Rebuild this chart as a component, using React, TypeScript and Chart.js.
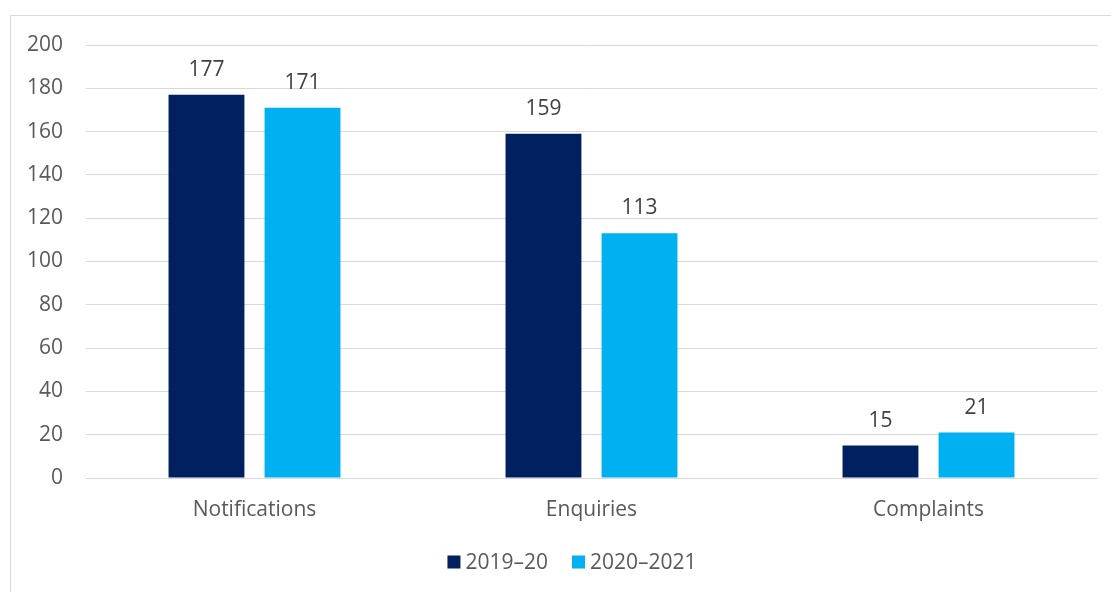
import React, { useEffect, useRef } from "react";
import { Chart, registerables } from "chart.js";

Chart.register(...registerables);

const categories = ["Notifications", "Enquiries", "Complaints"];
const series2019 = [177, 159, 15];
const series2020 = [171, 113, 21];
const seriesLabels = ["2019–20", "2020–2021"];
const seriesColors = ["#002060", "#00B0F0"];
const yTicks = [0, 20, 40, 60, 80, 100, 120, 140, 160, 180, 200];

const FONT = "'Open Sans', sans-serif";

const dataLabelPlugin = {
  id: "dataLabels",
  afterDatasetsDraw(chart: any) {
    const ctx = chart.ctx;
    ctx.save();
    ctx.font = `21px ${FONT}`;
    ctx.fillStyle = "#404040";
    ctx.textAlign = "center";
    ctx.textBaseline = "alphabetic";
    chart.data.datasets.forEach((ds: any, i: number) => {
      const meta = chart.getDatasetMeta(i);
      meta.data.forEach((bar: any, j: number) => {
        ctx.fillText(String(ds.data[j]), bar.x, bar.y - 19);
      });
    });
    ctx.restore();
  },
};

const legendPlugin = {
  id: "customLegend",
  afterDraw(chart: any) {
    const ctx = chart.ctx;
    ctx.save();
    ctx.font = `21px ${FONT}`;
    const box = 13;
    const gapBoxText = 5;
    const gapItems = 24;
    const items = chart.data.datasets.map((ds: any) => ({
      label: ds.label,
      color: ds.backgroundColor,
      w: ctx.measureText(ds.label).width,
    }));
    const total =
      items.reduce((s: number, it: any) => s + box + gapBoxText + it.w, 0) +
      gapItems * (items.length - 1);
    let x = 572 - total / 2;
    const cy = 562;
    items.forEach((it: any) => {
      ctx.fillStyle = it.color;
      ctx.fillRect(x, cy - box / 2, box, box);
      x += box + gapBoxText;
      ctx.fillStyle = "#595959";
      ctx.textBaseline = "middle";
      ctx.textAlign = "left";
      ctx.fillText(it.label, x, cy + 1);
      x += it.w + gapItems;
    });
    ctx.restore();
  },
};

export default function App() {
  const ref = useRef<HTMLCanvasElement>(null);

  useEffect(() => {
    if (!ref.current) return;
    const chart = new Chart(ref.current, {
      type: "bar",
      data: {
        labels: categories,
        datasets: [
          {
            label: seriesLabels[0],
            data: series2019,
            backgroundColor: seriesColors[0],
            categoryPercentage: 0.57,
            barPercentage: 0.79,
          },
          {
            label: seriesLabels[1],
            data: series2020,
            backgroundColor: seriesColors[1],
            categoryPercentage: 0.57,
            barPercentage: 0.79,
          },
        ],
      },
      options: {
        animation: false,
        responsive: false,
        devicePixelRatio: 1,
        layout: { padding: { left: 0, top: 45, right: 14, bottom: 64 } },
        plugins: {
          legend: { display: false },
          tooltip: { enabled: false },
        },
        scales: {
          x: {
            grid: { display: false, drawTicks: false },
            border: { display: false },
            ticks: {
              color: "#595959",
              font: { family: FONT, size: 21 },
              padding: 19,
            },
            afterFit(scale: any) {
              scale.height = 50;
            },
          },
          y: {
            min: 0,
            max: 200,
            afterBuildTicks(scale: any) {
              scale.ticks = yTicks.map((v) => ({ value: v }));
            },
            grid: { color: "#d9d9d9", lineWidth: 1, drawTicks: false },
            border: { display: false },
            ticks: {
              color: "#595959",
              font: { family: FONT, size: 21 },
              padding: 23,
            },
            afterFit(scale: any) {
              scale.width = 86;
            },
          },
        },
      },
      plugins: [dataLabelPlugin, legendPlugin],
    });
    return () => chart.destroy();
  }, []);

  return (
    <div
      style={{
        position: "fixed",
        left: 0,
        top: 0,
        width: 1111,
        height: 592,
        overflow: "hidden",
        background: "#ffffff",
      }}
    >
      <div
        style={{
          position: "absolute",
          left: 10,
          top: 15,
          width: 1200,
          height: 700,
          border: "1px solid #d9d9d9",
          boxSizing: "border-box",
        }}
      />
      <canvas
        ref={ref}
        width={1111}
        height={592}
        style={{ position: "absolute", left: 0, top: 0, width: 1111, height: 592 }}
      />
    </div>
  );
}
